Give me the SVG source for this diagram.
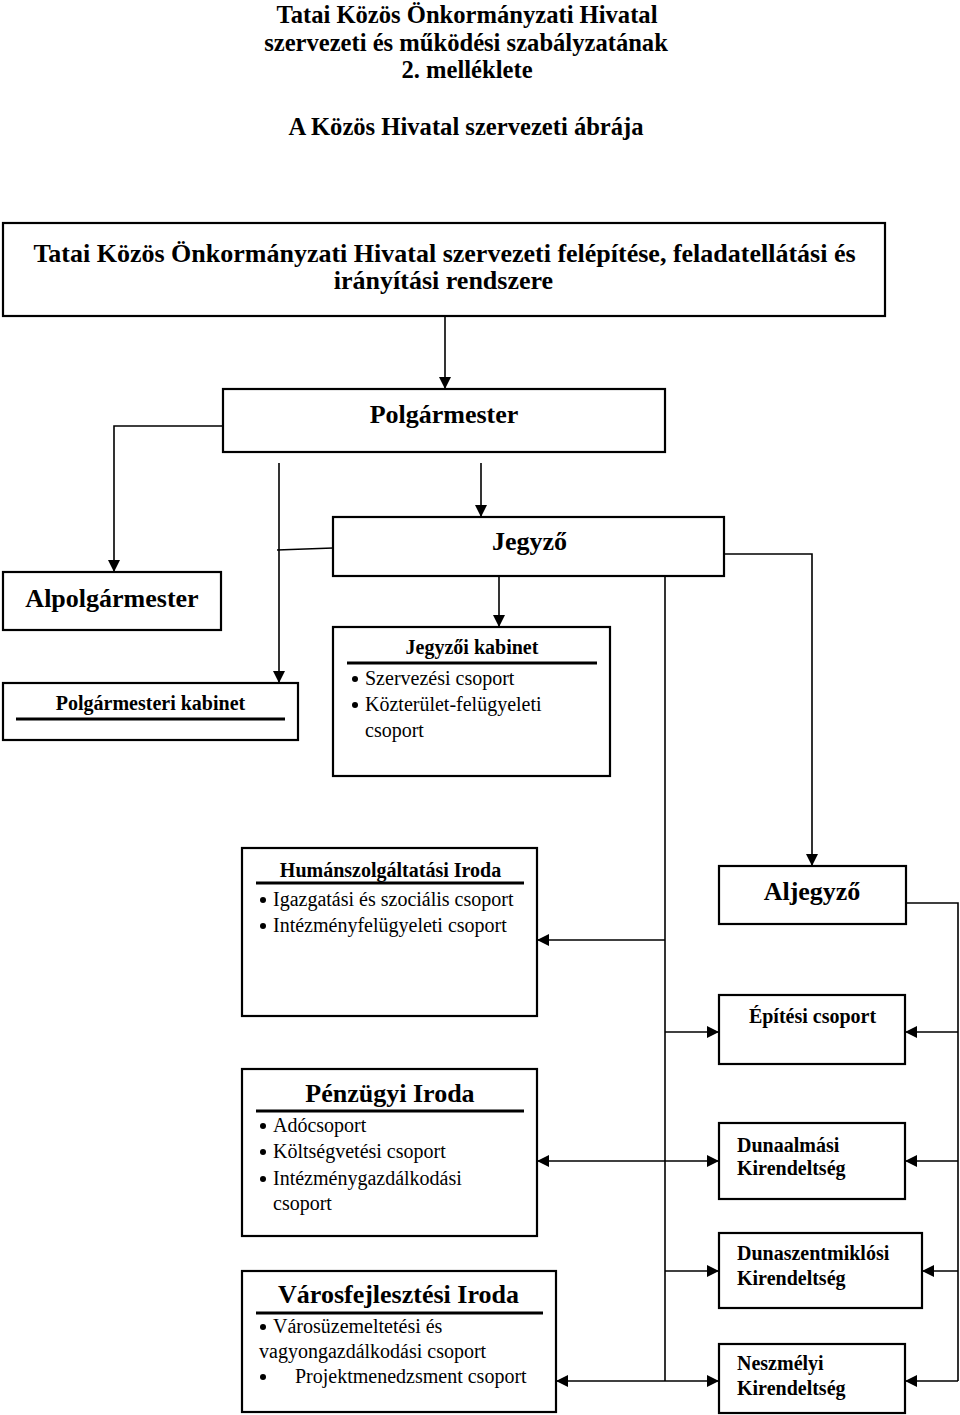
<svg xmlns="http://www.w3.org/2000/svg" width="960" height="1415" viewBox="0 0 960 1415">
<style>
text{font-family:"Liberation Serif","Times New Roman",serif;fill:#000}
.b{font-weight:bold}
.c{text-anchor:middle}
.t24{font-size:24.6px}
.t26{font-size:26px}
.t20{font-size:20px}
.box{fill:#fff;stroke:#000;stroke-width:2.2}
.ul{stroke:#000;stroke-width:3}
.con{fill:none;stroke:#000;stroke-width:1.6}
.arr{fill:none;stroke:#000;stroke-width:1.6;marker-end:url(#ah)}
</style>
<defs>
<marker id="ah" viewBox="0 0 12 12" refX="12" refY="6" markerWidth="13" markerHeight="12" markerUnits="userSpaceOnUse" orient="auto"><path d="M0,0 L12,6 L0,12 z" fill="#000"/></marker>
</defs>
<rect width="960" height="1415" fill="#fff"/>

<g id="title">
<text class="b c t24" x="467" y="23">Tatai Közös Önkormányzati Hivatal</text>
<text class="b c t24" x="466" y="51">szervezeti és működési szabályzatának</text>
<text class="b c t24" x="467" y="78">2. melléklete</text>
<text class="b c t24" x="466" y="135">A Közös Hivatal szervezeti ábrája</text>
</g>

<g id="connectors">
<path class="arr" d="M445,316 V389"/>
<path class="arr" d="M223,426 H114 V572"/>
<path class="arr" d="M279,463 V683"/>
<path class="arr" d="M481,463 V517"/>
<path class="con" d="M333,548 L277,550"/>
<path class="arr" d="M499,576 V627"/>
<path class="arr" d="M720,554 H812 V866"/>
<path class="con" d="M665,577 V1381"/>
<path class="arr" d="M665,940 H537"/>
<path class="arr" d="M665,1032 H719"/>
<path class="arr" d="M665,1161 H537"/>
<path class="arr" d="M665,1161 H719"/>
<path class="arr" d="M665,1271 H719"/>
<path class="arr" d="M665,1381 H556"/>
<path class="arr" d="M665,1381 H719"/>
<path class="con" d="M906,903 H958 V1381"/>
<path class="arr" d="M958,1032 H905"/>
<path class="arr" d="M958,1161 H905"/>
<path class="arr" d="M958,1271 H922"/>
<path class="arr" d="M958,1381 H905"/>
</g>

<g id="tatai">
<rect class="box" x="3" y="223" width="882" height="93"/>
<text class="b c t26" x="444.5" y="262">Tatai Közös Önkormányzati Hivatal szervezeti felépítése, feladatellátási és</text>
<text class="b c t26" x="443.5" y="289">irányítási rendszere</text>
</g>

<g id="polgarmester">
<rect class="box" x="223" y="389" width="442" height="63"/>
<text class="b c t26" x="444" y="423">Polgármester</text>
</g>

<g id="alpolgarmester">
<rect class="box" x="3" y="572" width="218" height="58"/>
<text class="b c t26" x="112" y="607">Alpolgármester</text>
</g>

<g id="polgarmesteri-kabinet">
<rect class="box" x="3" y="683" width="295" height="57"/>
<text class="b c t20" x="150.5" y="710">Polgármesteri kabinet</text>
<line class="ul" x1="16" y1="719" x2="285" y2="719"/>
</g>

<g id="jegyzo">
<rect class="box" x="333" y="517" width="391" height="59"/>
<text class="b c t26" x="529.5" y="550">Jegyző</text>
</g>

<g id="jegyzoi-kabinet">
<rect class="box" x="333" y="627" width="277" height="149"/>
<text class="b c t20" x="472" y="654">Jegyzői kabinet</text>
<line class="ul" x1="347" y1="663" x2="597" y2="663"/>
<circle cx="355" cy="679" r="3"/>
<text class="t20" x="365" y="685">Szervezési csoport</text>
<circle cx="355" cy="705" r="3"/>
<text class="t20" x="365" y="711">Közterület-felügyeleti</text>
<text class="t20" x="365" y="737">csoport</text>
</g>

<g id="human">
<rect class="box" x="242" y="848" width="295" height="168"/>
<text class="b c t20" x="390.5" y="877">Humánszolgáltatási Iroda</text>
<line class="ul" x1="256" y1="883" x2="524" y2="883"/>
<circle cx="263" cy="900" r="3"/>
<text class="t20" x="273" y="906">Igazgatási és szociális csoport</text>
<circle cx="263" cy="926" r="3"/>
<text class="t20" x="273" y="932">Intézményfelügyeleti csoport</text>
</g>

<g id="aljegyzo">
<rect class="box" x="719" y="866" width="187" height="58"/>
<text class="b c t26" x="812" y="900">Aljegyző</text>
</g>

<g id="epitesi">
<rect class="box" x="719" y="995" width="186" height="69"/>
<text class="b c t20" x="812.5" y="1023">Építési csoport</text>
</g>

<g id="penzugyi">
<rect class="box" x="242" y="1069" width="295" height="167"/>
<text class="b c t26" x="390" y="1102">Pénzügyi Iroda</text>
<line class="ul" x1="256" y1="1111" x2="524" y2="1111"/>
<circle cx="263" cy="1126" r="3"/>
<text class="t20" x="273" y="1132">Adócsoport</text>
<circle cx="263" cy="1152" r="3"/>
<text class="t20" x="273" y="1158">Költségvetési csoport</text>
<circle cx="263" cy="1179" r="3"/>
<text class="t20" x="273" y="1185">Intézménygazdálkodási</text>
<text class="t20" x="273" y="1210">csoport</text>
</g>

<g id="varosfejlesztesi">
<rect class="box" x="242" y="1271" width="314" height="141"/>
<text class="b c t26" x="398.5" y="1303">Városfejlesztési Iroda</text>
<line class="ul" x1="256" y1="1313" x2="543" y2="1313"/>
<circle cx="263" cy="1327" r="3"/>
<text class="t20" x="273" y="1333">Városüzemeltetési és</text>
<text class="t20" x="259" y="1358">vagyongazdálkodási csoport</text>
<circle cx="263" cy="1377" r="3"/>
<text class="t20" x="295" y="1383">Projektmenedzsment csoport</text>
</g>

<g id="dunaalmasi">
<rect class="box" x="719" y="1123" width="186" height="76"/>
<text class="b t20" x="737" y="1152">Dunaalmási</text>
<text class="b t20" x="737" y="1175">Kirendeltség</text>
</g>

<g id="dunaszentmiklosi">
<rect class="box" x="719" y="1233" width="203" height="75"/>
<text class="b t20" x="737" y="1260">Dunaszentmiklósi</text>
<text class="b t20" x="737" y="1285">Kirendeltség</text>
</g>

<g id="neszmelyi">
<rect class="box" x="719" y="1344" width="186" height="69"/>
<text class="b t20" x="737" y="1370">Neszmélyi</text>
<text class="b t20" x="737" y="1395">Kirendeltség</text>
</g>
</svg>
